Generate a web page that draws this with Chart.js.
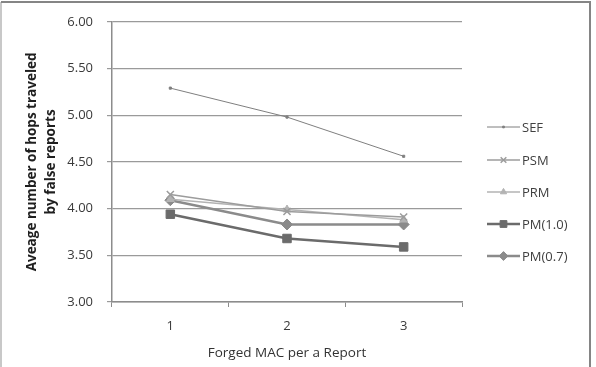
<!DOCTYPE html>
<html>
<head>
<meta charset="utf-8">
<script src="https://cdn.jsdelivr.net/npm/chart.js@4"></script>
<style>
  html, body { margin: 0; padding: 0; background: #fff; }
  #wrap { width: 596px; height: 367px; }
</style>
</head>
<body>
<div id="wrap"><canvas id="chart" width="596" height="367"></canvas></div>
<script>
const categories = ["1", "2", "3"];
const seriesNames = ["SEF", "PSM", "PRM", "PM(1.0)", "PM(0.7)"];
const sef = [5.29, 4.98, 4.56];
const psm = [4.15, 3.97, 3.91];
const prm = [4.10, 3.99, 3.88];
const pm10 = [3.94, 3.68, 3.59];
const pm07 = [4.09, 3.83, 3.83];
const yTicks = [3, 3.5, 4, 4.5, 5, 5.5, 6];

const FONT = "'Open Sans', 'Noto Sans', sans-serif";

// outer chart frame (top / right, faint left)
const frame = {
  id: "frame",
  beforeDraw(chart) {
    const ctx = chart.ctx;
    ctx.save();
    ctx.fillStyle = "#fff";
    ctx.fillRect(0, 0, chart.width, chart.height);
    ctx.lineWidth = 2;
    ctx.strokeStyle = "#c8c8c8";
    ctx.beginPath();
    ctx.moveTo(1, chart.height);
    ctx.lineTo(1, 2);
    ctx.stroke();
    ctx.strokeStyle = "#858585";
    ctx.beginPath();
    ctx.moveTo(1, 2);
    ctx.lineTo(590, 2);
    ctx.lineTo(590, chart.height);
    ctx.stroke();
    ctx.restore();
  },
};

// legend on the right: line with marker in the middle, like Excel
const sideLegend = {
  id: "sideLegend",
  afterDraw(chart) {
    const ctx = chart.ctx;
    const rows = [127, 160, 192, 224, 256];
    ctx.save();
    chart.data.datasets.forEach((ds, i) => {
      const y = rows[i];
      ctx.strokeStyle = ds.borderColor;
      ctx.lineWidth = ds.borderWidth;
      ctx.beginPath();
      ctx.moveTo(487, y);
      ctx.lineTo(520, y);
      ctx.stroke();
      ctx.fillStyle = ds.pointBackgroundColor;
      ctx.strokeStyle = ds.pointBorderColor;
      ctx.lineWidth = ds.pointBorderWidth;
      Chart.helpers.drawPoint(ctx, {
        pointStyle: ds.pointStyle,
        radius: ds.pointRadius * 0.8,
        borderWidth: ds.pointBorderWidth,
        rotation: 0,
      }, 503.5, y);
      ctx.fillStyle = "#404040";
      ctx.font = "13px " + FONT;
      ctx.textBaseline = "middle";
      ctx.textAlign = "left";
      ctx.fillText(ds.label, 522, y + 1);
    });
    ctx.restore();
  },
};

const mk = (label, data, color, width, style, radius) => ({
  label,
  data,
  borderColor: color,
  backgroundColor: color,
  pointBackgroundColor: color,
  pointBorderColor: color,
  pointBorderWidth: style === "crossRot" ? 1.5 : 1,
  borderWidth: width,
  pointStyle: style,
  pointRadius: radius,
  tension: 0,
});

new Chart(document.getElementById("chart"), {
  type: "line",
  data: {
    labels: categories,
    datasets: [
      mk(seriesNames[0], sef, "#7f7f7f", 1, "rect", 1.5),
      mk(seriesNames[1], psm, "#9c9c9c", 1.5, "crossRot", 5),
      mk(seriesNames[2], prm, "#b3b3b3", 1.5, "triangle", 4.5),
      mk(seriesNames[3], pm10, "#6b6b6b", 2.5, "rect", 6),
      mk(seriesNames[4], pm07, "#8b8b8b", 2.5, "rectRot", 5.5),
    ],
  },
  options: {
    responsive: false,
    animation: false,
    layout: { padding: { left: 23, right: 134, top: 21, bottom: 2 } },
    plugins: {
      legend: { display: false },
      tooltip: { enabled: false },
    },
    scales: {
      x: {
        offset: true,
        grid: {
          offset: true,
          drawOnChartArea: false,
          tickLength: 5,
          color: "#8c8c8c",
        },
        border: { color: "#8c8c8c", width: 1.5 },
        ticks: { color: "#3a3a3a", font: { family: FONT, size: 13 }, padding: 11 },
        title: {
          display: true,
          text: "Forged MAC per a Report",
          color: "#333",
          font: { family: FONT, size: 13.5 },
          padding: { top: 6 },
        },
        afterFit(scale) {
          scale.height = 367 - 302 - 2;
        },
      },
      y: {
        min: 3,
        max: 6,
        afterBuildTicks(scale) {
          scale.ticks = yTicks.map((v) => ({ value: v }));
        },
        grid: { color: "#9a9a9a", lineWidth: 1.2, tickLength: 5 },
        border: { color: "#8c8c8c", width: 1.5 },
        ticks: {
          color: "#3a3a3a",
          font: { family: FONT, size: 13 },
          padding: 14,
          callback: (v) => v.toFixed(2),
        },
        title: {
          display: true,
          text: ["Aveage number of hops traveled", "by false reports"],
          color: "#1f1f1f",
          font: { family: FONT, size: 13.5, weight: "bold", lineHeight: 1.4 },
          padding: 0,
        },
        afterFit(scale) {
          scale.width = 112 - 23;
        },
      },
    },
  },
  plugins: [frame, sideLegend],
});
</script>
</body>
</html>
